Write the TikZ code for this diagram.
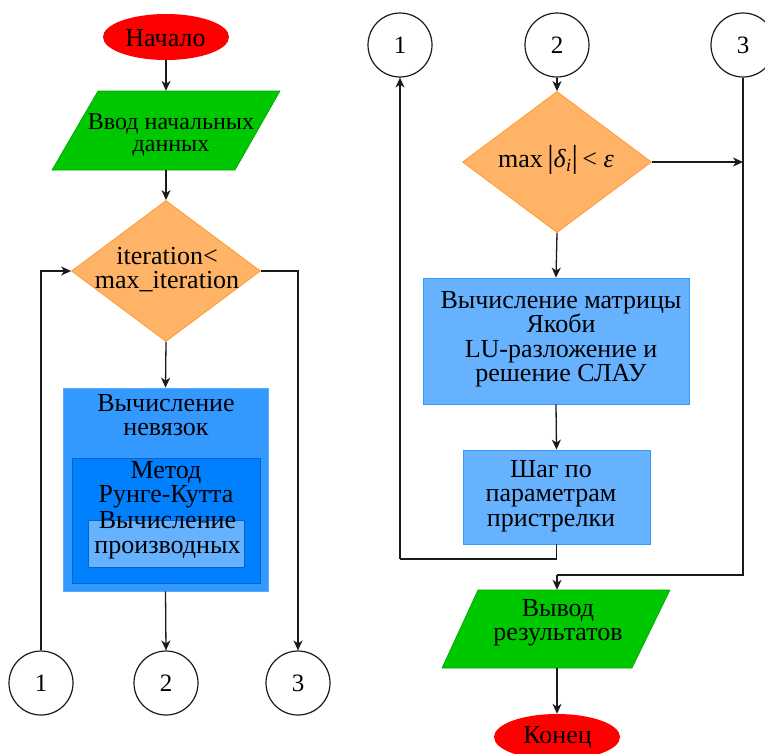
\documentclass[tikz,border=0pt]{standalone}
\usepackage{fontspec}
\setmainfont{Liberation Serif}
\usetikzlibrary{shapes.geometric,arrows.meta}
\definecolor{cRed}{HTML}{FF0000}
\definecolor{cGreen}{HTML}{00C800}
\definecolor{cGreenD}{HTML}{00A000}
\definecolor{cOrange}{HTML}{FFB366}
\definecolor{cOrangeD}{HTML}{FF9A33}
\definecolor{cBlueA}{HTML}{3399FF}
\definecolor{cBlueAD}{HTML}{55AAFF}
\definecolor{cBlueB}{HTML}{007FFF}
\definecolor{cBlueBD}{HTML}{0066CC}
\definecolor{cBlueC}{HTML}{66B2FF}
\definecolor{cBlueCD}{HTML}{3399FF}
\definecolor{cLine}{HTML}{1A1A1A}
\begin{document}
\begin{tikzpicture}[x=1pt,y=-1pt,
  every node/.style={font=\fontsize{26}{24.5}\selectfont, inner sep=0pt, align=center},
  term/.style={ellipse, fill=cRed, minimum width=126pt, minimum height=46pt},
  conn/.style={circle, draw=cLine, line width=1.2pt, fill=white, minimum size=64pt, font=\fontsize{25}{25}\selectfont},
  dec/.style={diamond, fill=cOrange, draw=cOrangeD, line width=0.8pt, minimum width=189pt, minimum height=141pt},
  ghost/.style={rectangle, minimum width=120pt},
  arr/.style={draw=cLine, line width=1.3pt, -{Stealth[length=10pt,width=9pt,inset=3pt]}},
  ln/.style={draw=cLine, line width=1.3pt}
]
\useasboundingbox (0,0) rectangle (765,753);

% ---------- left column ----------
\node[term] (start) at (166,37) {};
\node (startT) at (165.5,38) {Начало};

\fill[cGreen, draw=cGreenD, line width=0.6pt] (98,91) -- (280,91) -- (235,170) -- (52,170) -- cycle;
\node[ghost, minimum height=79pt] (in) at (166,130.5) {};
\node[font=\fontsize{24}{22.6}\selectfont] (inT) at (171,135) {Ввод начальных\\данных};

\node[dec] (d1) at (166,271) {};
\node (d1T) at (167,269.5) {iteration<\\max\_iteration};

\node[rectangle, fill=cBlueA, draw=cBlueAD, line width=0.8pt, minimum width=205pt, minimum height=203pt] (res) at (165.5,489.5) {};
\node (resT) at (166,415) {Вычисление\\невязок};
\node[rectangle, fill=cBlueB, draw=cBlueBD, line width=0.8pt, minimum width=188pt, minimum height=125pt] (rk) at (166,520.5) {};
\node (rkT) at (166,485) {Метод\\Рунге-Кутта};
\node[rectangle, fill=cBlueC, draw=cBlueBD, line width=0.8pt, minimum width=156pt, minimum height=47pt] (der) at (166,543.5) {};
\node (derT) at (167.5,535) {Вычисление\\производных};

\node[conn] (c1b) at (41,683) {1};
\node[conn] (c2b) at (166,683) {2};
\node[conn] (c3b) at (298,683) {3};

\draw[arr] (start) -- (in.north);
\draw[arr] (in.south) -- (d1.north);
\draw[arr] (d1.south) -- (res.north);
\draw[arr] (res.south) -- (c2b.north);
\draw[arr] (d1.east) -| (c3b.north);
\draw[arr] (c1b.north) |- (d1.west);

% ---------- right column ----------
\node[conn] (c1t) at (400,45) {1};
\node[conn] (c2t) at (557,45) {2};
\node[conn] (c3t) at (743,45) {3};

\node[dec] (d2) at (557,162) {};
\node (d2T) at (556,160) {max\,{\fontsize{32}{32}\selectfont|}\textit{δ}\textsubscript{\textit{i}}{\fontsize{32}{32}\selectfont|}\,< \textit{ε}};

\node[rectangle, fill=cBlueC, draw=cBlueCD, line width=0.8pt, minimum width=266pt, minimum height=126pt] (b1) at (556,341) {};
\node (b1T) at (561,339) {Вычисление матрицы\\Якоби\\LU-разложение и\\решение СЛАУ};

\node[rectangle, fill=cBlueC, draw=cBlueCD, line width=0.8pt, minimum width=187pt, minimum height=94pt] (b2) at (556.5,497) {};
\node (b2T) at (551,496) {Шаг по\\параметрам\\пристрелки};

\fill[cGreen, draw=cGreenD, line width=0.6pt] (478,590) -- (670,590) -- (632,668) -- (442,668) -- cycle;
\node[ghost, minimum height=78pt] (out) at (557,629) {};
\node (outT) at (558,623) {Вывод\\результатов};

\node[term] (end) at (557,737) {};
\node (endT) at (557.5,737) {Конец};

\coordinate (j1) at (400,559);
\coordinate (j3) at (557,575);

\draw[arr] (c2t.south) -- (d2.north);
\draw[arr] (d2.east) -- (d2.east -| c3t.south);
\draw[ln] (c3t.south) |- (j3);
\draw[arr] (j3) -- (out.north);
\draw[arr] (d2.south) -- (b1.north);
\draw[arr] (b1.south) -- (b2.north);
\draw[ln] (b2.south) |- (j1);
\draw[arr] (j1) -- (c1t.south);
\draw[arr] (out.south) -- (end.north);
\end{tikzpicture}
\end{document}
